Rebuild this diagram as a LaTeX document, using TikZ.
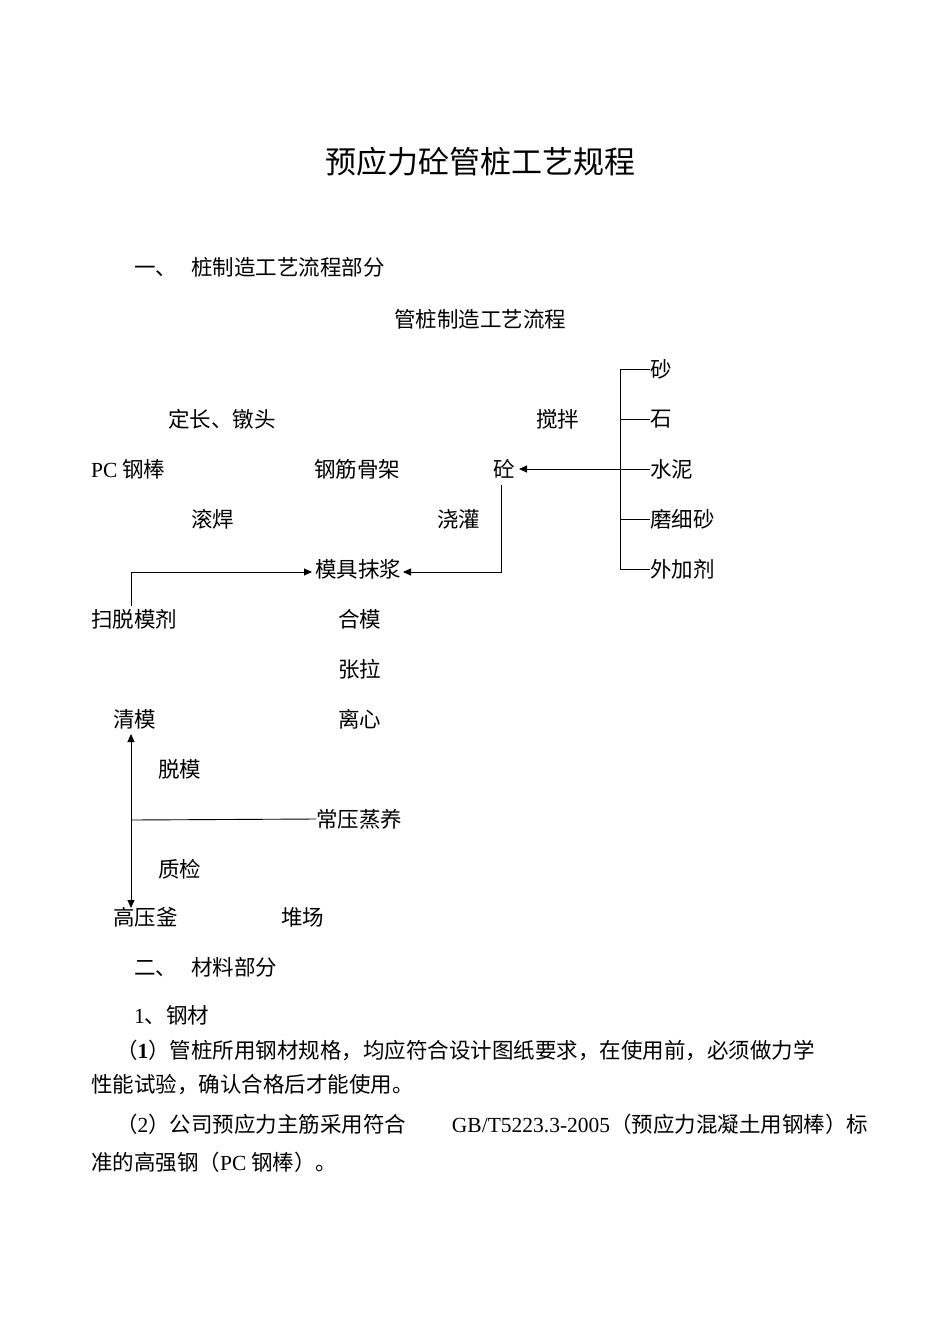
\documentclass[tikz,border=0pt]{standalone}
\usepackage{fontspec}
\setmainfont{Noto Sans CJK SC}
\newfontfamily\lat{Liberation Serif}
\XeTeXlinebreaklocale "zh"
\XeTeXlinebreakskip=0pt plus 2pt
\usetikzlibrary{arrows.meta}
\begin{document}
\begin{tikzpicture}[x=1pt,y=-1pt,
  t/.style={anchor=west,inner sep=0pt,font=\fontsize{21.5}{21.5}\selectfont},
  ln/.style={line width=0.9pt},
  ar/.style={line width=0.9pt,-{Triangle[length=8pt,width=7pt]}}]
\useasboundingbox[fill=white] (0,0) rectangle (950,1344);
\node[anchor=center,inner sep=0pt,font=\fontsize{31}{31}\selectfont] (title) at (480,162) {预应力砼管桩工艺规程};
\node[t] (h1) at (134,267) {一、\hspace{14pt}桩制造工艺流程部分};
\node[anchor=center,inner sep=0pt,font=\fontsize{21.5}{21.5}\selectfont] (sub) at (480,319) {管桩制造工艺流程};
% flow nodes
\node[t] (sha) at (650,369) {砂};
\node[t] (dc) at (168,419) {定长、镦头};
\node[t] (jb) at (536,419) {搅拌};
\node[t] (shi) at (650,419) {石};
\node[t] (pc) at (91,469) {{\lat PC} 钢棒};
\node[t] (gj) at (314,469) {钢筋骨架};
\node[t] (tong) at (493,469) {砼};
\node[t] (sn) at (650,469) {水泥};
\node[t] (gh) at (191,519) {滚焊};
\node[t] (jg) at (437,519) {浇灌};
\node[t] (mx) at (650,519) {磨细砂};
\node[t] (mj) at (315,569) {模具抹浆};
\node[t] (wj) at (650,569) {外加剂};
\node[t] (sm) at (91,619) {扫脱模剂};
\node[t] (hm) at (338,619) {合模};
\node[t] (zl) at (338,669) {张拉};
\node[t] (qm) at (113,719) {清模};
\node[t] (lx) at (338,719) {离心};
\node[t] (tm) at (158,769) {脱模};
\node[t] (cy) at (316,819) {常压蒸养};
\node[t] (zj) at (158,869) {质检};
\node[t] (gy) at (113,917) {高压釜};
\node[t] (dch) at (281,917) {堆场};
% connectors
\coordinate (vt) at (620,369);
\coordinate (vb) at (620,569);
\draw[ln] (sha.west) -- (vt) -- (vb) -- (wj.west);
\draw[ln] (620,419) -- (shi.west);
\draw[ln] (620,519) -- (mx.west);
\draw[ln] (620,469) -- (sn.west);
\draw[ar] (620,469) -- (519,469);
\coordinate (tc) at (501,572);
\coordinate (mjr) at (403,572);
\draw[ar] (501,485) -- (tc) -- (mjr);
\coordinate (sc) at (131,572);
\coordinate (mjl) at (312,572);
\draw[ar] (131,606) -- (sc) -- (mjl);
\coordinate (mid) at (131,820);
\draw[ln] (mid) -- (cy.west);
\draw[ar] (mid) -- (131,734);
\draw[ar] (mid) -- (131,908);
% text
\node[t] (h2) at (134,967) {二、\hspace{14pt}材料部分};
\node[t] (s1) at (134,1015) {{\lat 1}、钢材};
\node[t] (p1) at (116,1050) {\makebox[752pt][s]{（{\lat\bfseries 1}）管桩所用钢材规格，均应符合设计图纸要求，在使用前，必须做力学}};
\node[t] (p1b) at (91,1085) {性能试验，确认合格后才能使用。};
\node[t] (p2) at (116,1124) {\makebox[752pt][s]{（{\lat 2}）公司预应力主筋采用符合 {\lat GB/T5223.3-2005}（预应力混凝土用钢棒）标}};
\node[t] (p2b) at (91,1162) {准的高强钢（{\lat PC} 钢棒）。};
\end{tikzpicture}
\end{document}
